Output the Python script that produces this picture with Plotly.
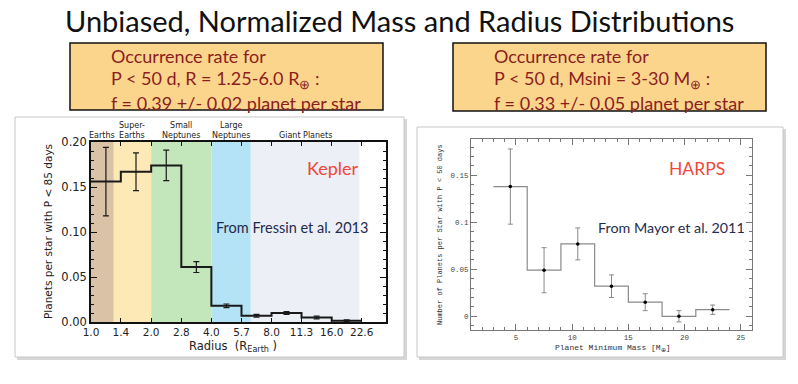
import math
import plotly.graph_objects as go

W, H = 798, 384


def px(x):
    return x / W


def py(y):
    return 1 - y / H


# ---------------- data ----------------
# Kepler (Fressin et al. 2013): radius bins (R_Earth), occurrence per star
kep_edges = [1.0, 1.41, 2.0, 2.83, 4.0, 5.66, 8.0, 11.3, 16.0, 22.6]
kep_rate = [0.156, 0.167, 0.174, 0.061, 0.018, 0.007, 0.010, 0.005, 0.0015]
kep_err = [0.038, 0.021, 0.017, 0.006, 0.002, 0.0015, 0.0015, 0.0015, 0.001]
kep_tickvals = [1.0, 1.41, 2.0, 2.83, 4.0, 5.66, 8.0, 11.3, 16.0, 22.6]
kep_ticktext = ["1.0", "1.4", "2.0", "2.8", "4.0", "5.7", "8.0", "11.3", "16.0", "22.6"]
kep_ytickvals = [0.0, 0.05, 0.10, 0.15, 0.20]
kep_yticktext = ["0.00", "0.05", "0.10", "0.15", "0.20"]

class_names = ["Earths", "Super-<br>Earths", "Small<br>Neptunes", "Large<br>Neptunes", "Giant Planets"]
class_edges = [1.0, 1.3, 2.0, 4.0, 6.3, 22.0]
class_colors = ["#dac2a6", "#fce9b6", "#c4e6bb", "#b4e3f6", "#eceff5"]

# HARPS (Mayor et al. 2011): minimum-mass bins (M_Earth)
harps_edges = [3, 6, 9, 12, 15, 18, 21, 24]
harps_rate = [0.138, 0.049, 0.077, 0.032, 0.015, 0.0, 0.007]
harps_err = [0.040, 0.024, 0.017, 0.012, 0.009, 0.006, 0.005]
harps_xtickvals = [5, 10, 15, 20, 25]
harps_ytickvals = [0.0, 0.05, 0.10, 0.15]
harps_yticktext = ["0", "0.05", "0.1", "0.15"]

title_text = "Unbiased, Normalized Mass and Radius Distributions"
box_left_lines = ["Occurrence rate for",
                  "P < 50 d, R = 1.25-6.0 R<sub>⊕</sub> :",
                  "f = 0.39 +/- 0.02 planet per star"]
box_right_lines = ["Occurrence rate for",
                   "P < 50 d, Msini = 3-30 M<sub>⊕</sub> :",
                   "f = 0.33 +/- 0.05 planet per star"]

# ---------------- figure ----------------
fig = go.Figure()

kep_centers = [math.sqrt(kep_edges[i] * kep_edges[i + 1]) for i in range(len(kep_rate))]
fig.add_trace(go.Scatter(
    x=kep_edges, y=kep_rate + [kep_rate[-1]], mode="lines", line_shape="hv",
    line=dict(color="#1a1a1a", width=2), xaxis="x", yaxis="y", hoverinfo="skip"))
fig.add_trace(go.Scatter(
    x=kep_centers, y=kep_rate, mode="markers",
    marker=dict(size=1, color="#1a1a1a"),
    error_y=dict(type="data", array=kep_err, color="#1a1a1a", thickness=1.2, width=3),
    xaxis="x", yaxis="y", hoverinfo="skip"))

harps_centers = [(harps_edges[i] + harps_edges[i + 1]) / 2 for i in range(len(harps_rate))]
fig.add_trace(go.Scatter(
    x=harps_edges, y=harps_rate + [harps_rate[-1]], mode="lines", line_shape="hv",
    line=dict(color="#8a8a8a", width=1.2), xaxis="x2", yaxis="y2", hoverinfo="skip"))
fig.add_trace(go.Scatter(
    x=harps_centers, y=harps_rate, mode="markers",
    marker=dict(size=3.5, color="#000000"),
    error_y=dict(type="data", array=harps_err, color="#8a8a8a", thickness=1, width=2.5),
    xaxis="x2", yaxis="y2", hoverinfo="skip"))

shapes = []
# card shadows and cards
for (x0, y0, x1, y1) in [(15, 117, 404, 357), (417, 127, 783, 357)]:
    shapes.append(dict(type="rect", xref="paper", yref="paper",
                       x0=px(x0 + 2), x1=px(x1 + 3), y0=py(y1 + 3), y1=py(y0 + 2),
                       fillcolor="#d6d6d6", line=dict(width=0), layer="below"))
    shapes.append(dict(type="rect", xref="paper", yref="paper",
                       x0=px(x0), x1=px(x1), y0=py(y1), y1=py(y0),
                       fillcolor="#ffffff", line=dict(color="#c8c8c8", width=1), layer="below"))
# yellow boxes
for (x0, y0, x1, y1) in [(70, 43, 383, 110), (453, 43, 766, 111)]:
    shapes.append(dict(type="rect", xref="paper", yref="paper",
                       x0=px(x0), x1=px(x1), y0=py(y1), y1=py(y0),
                       fillcolor="#fcd58d", line=dict(color="#111111", width=1.5), layer="below"))
# planet-class bands in Kepler panel
for i, c in enumerate(class_colors):
    shapes.append(dict(type="rect", xref="x", yref="y domain",
                       x0=class_edges[i], x1=class_edges[i + 1], y0=0, y1=1,
                       fillcolor=c, line=dict(width=0), layer="below"))


def note(text, x, y, size, color, family="Lato", angle=0, xanchor="center"):
    return dict(text=text, x=px(x), y=py(y), xref="paper", yref="paper",
                showarrow=False, xanchor=xanchor, yanchor="middle", textangle=angle,
                borderpad=0, font=dict(family=family, size=size, color=color))


annotations = [note(title_text, 399, 20, 29, "#111111")]
for lines, x0 in [(box_left_lines, 110), (box_right_lines, 493)]:
    for j, t in enumerate(lines):
        annotations.append(note(t, x0, 56 + 23.5 * j, 18, "#8b1e1e", xanchor="left"))
# class labels
for i, name in enumerate(class_names):
    cx = math.sqrt(class_edges[i] * class_edges[i + 1])
    annotations.append(dict(text=name, x=math.log10(cx), y=py(141.5), xref="x", yref="paper",
                            showarrow=False, xanchor="center", yanchor="bottom",
                            borderpad=0,
                            font=dict(family="DejaVu Sans", size=8, color="#222222")))
annotations += [
    note("Kepler", 333, 168, 18, "#f0473a"),
    note("From Fressin et al. 2013", 292, 227, 14.5, "#1f2b4d"),
    note("HARPS", 697, 168, 17.5, "#f0473a"),
    note("From Mayor et al. 2011", 671, 227, 14.3, "#1f2b4d"),
    note("Planets per star with P < 85 days", 48, 232, 10.5, "#222222",
         family="DejaVu Sans", angle=-90),
    note("Radius  (R<sub>Earth</sub> )", 233, 346, 11.5, "#222222", family="DejaVu Sans"),
    note("Number of Planets per Star with P < 50 days", 440, 235, 7, "#333333",
         family="Liberation Mono", angle=-90),
    note("Planet Minimum Mass [M<sub>⊕</sub>]", 612, 348, 8, "#333333",
         family="Liberation Mono"),
]

fig.update_layout(
    template="none",
    width=W, height=H, autosize=False,
    margin=dict(l=0, r=0, t=0, b=0, pad=0),
    paper_bgcolor="#ffffff", plot_bgcolor="rgba(0,0,0,0)",
    showlegend=False, shapes=shapes, annotations=annotations,
    xaxis=dict(type="log", range=[0, math.log10(29.9)], domain=[px(91), px(386)],
               anchor="y", tickvals=kep_tickvals, ticktext=kep_ticktext,
               ticks="inside", ticklen=4, tickcolor="#111111", mirror="ticks",
               showline=True, linecolor="#111111", linewidth=1.5, showgrid=False,
               zeroline=False, automargin=False,
               tickfont=dict(family="DejaVu Sans", size=10.5, color="#222222")),
    yaxis=dict(range=[0, 0.2], domain=[py(322), py(142)], anchor="x",
               tickvals=kep_ytickvals, ticktext=kep_yticktext,
               ticks="inside", ticklen=6, tickcolor="#111111", mirror="ticks",
               showline=True, linecolor="#111111", linewidth=1.5, showgrid=False,
               zeroline=False, automargin=False,
               minor=dict(dtick=0.01, tick0=0, ticks="inside", ticklen=3,
                          tickcolor="#111111", showgrid=False),
               tickfont=dict(family="DejaVu Sans", size=11.5, color="#222222")),
    xaxis2=dict(range=[1, 26], domain=[px(471), px(752)], anchor="y2",
                tickvals=harps_xtickvals, ticks="inside", ticklen=6,
                tickcolor="#777777", mirror="ticks", showline=True,
                linecolor="#777777", linewidth=1, showgrid=False, zeroline=False,
                automargin=False,
                minor=dict(dtick=1, tick0=0, ticks="inside", ticklen=3,
                           tickcolor="#777777", showgrid=False),
                tickfont=dict(family="Liberation Mono", size=7.5, color="#444444")),
    yaxis2=dict(range=[-0.0146, 0.1886], domain=[py(330), py(139)], anchor="x2",
                tickvals=harps_ytickvals, ticktext=harps_yticktext,
                ticks="inside", ticklen=6, tickcolor="#777777", mirror="ticks",
                showline=True, linecolor="#777777", linewidth=1, showgrid=False,
                zeroline=False, automargin=False,
                minor=dict(dtick=0.01, tick0=0, ticks="inside", ticklen=3,
                           tickcolor="#777777", showgrid=False),
                tickfont=dict(family="Liberation Mono", size=7.5, color="#444444")),
)

fig.write_html("out.html", config=dict(displayModeBar=False),
               post_script="document.body.style.margin='0';")
